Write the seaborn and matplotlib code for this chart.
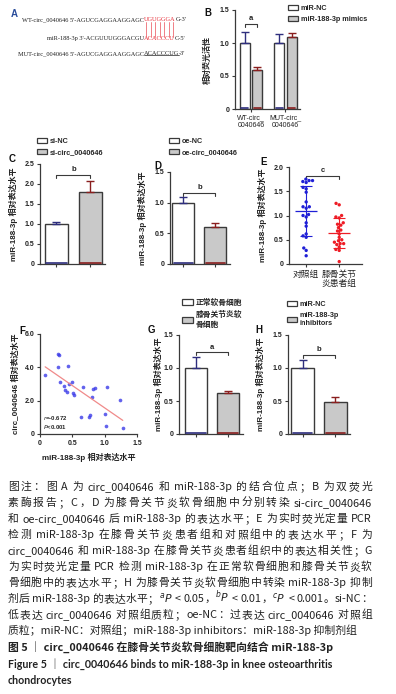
import re
import numpy as np
import pandas as pd
import seaborn as sns
import matplotlib
matplotlib.use("Agg")
import matplotlib.pyplot as plt
from matplotlib.patches import Patch
from matplotlib.lines import Line2D
from matplotlib.transforms import IdentityTransform

sns.set_theme(style="ticks")
plt.rcParams["font.family"] = ["Liberation Sans", "Noto Sans CJK SC", "DejaVu Sans"]
plt.rcParams["axes.unicode_minus"] = False

W, H = 396, 694
DARK = "#3a3a3a"
WHITE = "#ffffff"
GREY = "#c9c9c9"
NAVY = "#2e2e7e"
MAROON = "#8a1f1f"
BLUE = "#1f1fd6"
RED = "#ee1c25"
SEQ_RED = "#e8303a"

# ---- data ----
b_groups = ["WT-circ_\n0040646", "MUT-circ_\n0040646"]
b_conds = ["miR-NC", "miR-188-3p mimics"]
b_nc = [1.0, 1.0]
b_nc_err = [0.16, 0.14]
b_mimics = [0.59, 1.09]
b_mimics_err = [0.05, 0.06]

c_groups = ["si-NC", "si-circ_0040646"]
c_vals = [1.0, 1.8]
c_err = [0.06, 0.27]

d_groups = ["oe-NC", "oe-circ_0040646"]
d_vals = [1.0, 0.6]
d_err = [0.09, 0.07]

e_cats = ["对照组", "膝骨关节\n炎患者组"]
e_ctrl = [1.75, 1.72, 1.70, 1.72, 1.68, 1.58, 1.55, 1.48, 1.28, 1.18, 1.18, 1.15,
          1.02, 1.00, 0.97, 0.85, 0.78, 0.62, 0.58, 0.55, 0.33, 0.28, 0.17]
e_koa = [1.25, 1.22, 1.00, 0.97, 0.95, 0.85, 0.82, 0.80, 0.75, 0.70, 0.68, 0.62,
         0.55, 0.50, 0.48, 0.45, 0.42, 0.42, 0.40, 0.35, 0.30, 0.28, 0.05]

f_mir = [0.08, 0.28, 0.28, 0.30, 0.44, 0.31, 0.37, 0.39, 0.42, 0.45, 0.49, 0.51,
         0.52, 0.66, 0.63, 0.76, 0.78, 0.81, 0.82, 0.85, 1.04, 1.01, 1.02, 1.24, 1.28]
f_circ = [3.56, 4.02, 4.82, 4.74, 4.06, 3.14, 2.90, 2.62, 2.54, 2.98, 3.14, 2.46,
          2.34, 2.82, 1.02, 1.02, 1.16, 2.20, 2.70, 2.76, 2.82, 1.22, 0.50, 2.06, 0.38]

g_groups = ["正常软骨细胞", "膝骨关节炎软\n骨细胞"]
g_vals = [1.0, 0.62]
g_err = [0.16, 0.03]

h_groups = ["miR-NC", "miR-188-3p\ninhibitors"]
h_vals = [1.0, 0.49]
h_err = [0.12, 0.07]

YLAB = "miR-188-3p 相对表达水平"

caption = [
    "图注：图 A 为 circ_0040646 和 miR-188-3p 的结合位点；B 为双荧光",
    "素酶报告；C，D 为膝骨关节炎软骨细胞中分别转染 si-circ_0040646",
    "和 oe-circ_0040646 后 miR-188-3p 的表达水平；E 为实时荧光定量 PCR",
    "检测 miR-188-3p 在膝骨关节炎患者组和对照组中的表达水平；F 为",
    "circ_0040646 和 miR-188-3p 在膝骨关节炎患者组织中的表达相关性；G",
    "为实时荧光定量 PCR 检测 miR-188-3p 在正常软骨细胞和膝骨关节炎软",
    "骨细胞中的表达水平；H 为膝骨关节炎软骨细胞中转染 miR-188-3p 抑制",
    "剂后 miR-188-3p 的表达水平；$^{a}P$ < 0.05，$^{b}P$ < 0.01，$^{c}P$ < 0.001。si-NC：",
    "低表达 circ_0040646 对照组质粒；oe-NC：过表达 circ_0040646 对照组",
    "质粒；miR-NC：对照组；miR-188-3p inhibitors：miR-188-3p 抑制剂组",
]

fig = plt.figure(figsize=(W / 100, H / 100), dpi=100)


def add_ax(box):
    l, t, r, b = box
    return fig.add_axes([l / W, 1 - b / H, (r - l) / W, (b - t) / H])


def finish(ax, ylim, yticks, ylabels, xlim, ylabel, label_x):
    ax.set_ylim(*ylim)
    ax.set_xlim(*xlim)
    ax.set_yticks(yticks)
    ax.set_yticklabels(ylabels, fontsize=5, fontweight="bold", color="#222222")
    for side in ["top", "right"]:
        ax.spines[side].set_visible(False)
    for side in ["left", "bottom"]:
        ax.spines[side].set_linewidth(0.9)
        ax.spines[side].set_color(DARK)
    ax.tick_params(length=2.5, width=0.8, color=DARK, pad=1.5)
    ax.set_xlabel("")
    ax.set_ylabel(ylabel, fontsize=5.8, fontweight="bold", color="#222222")
    ax.yaxis.set_label_coords(label_x, 0.5)


def bracket(ax, x1, x2, y, h, label):
    ax.plot([x1, x1, x2, x2], [y - h, y, y, y - h], color=DARK, lw=0.8)
    ax.text((x1 + x2) / 2, y + h * 0.5, label, ha="center", va="bottom",
            fontsize=5.5, fontweight="bold", color="#222222")


def bars(ax, centers_out, errs, colors, ytop):
    for p, e, c in zip(ax.patches, errs, colors):
        xc = p.get_x() + p.get_width() / 2
        centers_out.append(xc)
        ax.errorbar(xc, p.get_height(), yerr=[[0], [e]], fmt="none", ecolor=c,
                    elinewidth=1.0, capsize=2.6, capthick=1.0, zorder=1)
        ax.plot([p.get_x() + 0.04, p.get_x() + p.get_width() - 0.04],
                [ytop * 0.012] * 2, color=c, lw=1.2, zorder=3)


def two_bar(box, groups, vals, errs, xlim, width, ytop, yticks, ylabels, label_x, sig):
    ax = add_ax(box)
    df = pd.DataFrame({"group": groups, "value": vals})
    sns.barplot(data=df, x="group", y="value", hue="group", palette=[WHITE, GREY],
                width=width, edgecolor=DARK, linewidth=1.0, errorbar=None,
                legend=False, ax=ax)
    centers = []
    bars(ax, centers, errs, [NAVY, MAROON], ytop)
    ax.set_xticks(centers)
    ax.set_xticklabels(["", ""])
    finish(ax, (0, ytop), yticks, ylabels, xlim, YLAB, label_x)
    bracket(ax, centers[0], centers[1], sig[0], sig[1], sig[2])
    return ax


def legend_at(labels, x, y, fs=5.2, spacing=1.2):
    handles = [Patch(facecolor=WHITE, edgecolor=DARK, linewidth=0.9),
               Patch(facecolor=GREY, edgecolor=DARK, linewidth=0.9)]
    leg = fig.legend(handles, labels, loc="upper left", bbox_to_anchor=(x / W, 1 - y / H),
                     frameon=False, prop={"size": fs, "weight": "bold"}, handlelength=1.4,
                     handleheight=0.75, handletextpad=0.35, labelspacing=0.5,
                     borderpad=0, borderaxespad=0)
    for t in leg.get_texts():
        t.set_linespacing(spacing)
    return leg


def letter(s, x, y, color="#111111"):
    fig.text(x / W, 1 - y / H, s, fontsize=7, fontweight="bold", ha="center",
             va="center", color=color)


# ---- A: binding sites ----
axT = fig.add_axes([0, 0, 1, 1])
axT.set_axis_off()
seq_kw = dict(fontsize=4.6, family="Liberation Serif", color="#222222")
SEQ_X = 144


def seq_line(y, prefix, mid, suffix, mid_color):
    axT.annotate(prefix, xy=(SEQ_X, H - y), xycoords="figure pixels", ha="right",
                 va="baseline", **seq_kw)
    m = axT.annotate(mid, xy=(SEQ_X, H - y), xycoords="figure pixels", ha="left",
                     va="baseline", **{**seq_kw, "color": mid_color})
    axT.annotate(suffix, xy=(1, 0), xycoords=m, ha="left", va="bottom", **seq_kw)
    return m


m1 = seq_line(21, "WT-circ_0040646 5'-AGUCGAGGAAGGAGC", "UGUGGGA", "G-3'", SEQ_RED)
m2 = seq_line(40, "miR-188-3p 3'-ACGUUUGGGACGU", "ACACCCU", "C-5'", SEQ_RED)
m3 = seq_line(55, "MUT-circ_0040646 5'-AGUCGAGGAAGGAGC", "ACACCCUG", "-3'", "#222222")
letter("A", 14, 14, color="#2a4d9b")

# ---- B: dual luciferase ----
axB = add_ax((235, 10, 300, 109))
dfb = pd.DataFrame({"group": b_groups * 2,
                    "cond": [b_conds[0]] * 2 + [b_conds[1]] * 2,
                    "value": b_nc + b_mimics})
sns.barplot(data=dfb, x="group", y="value", hue="cond", palette=[WHITE, GREY],
            width=0.72, gap=0.2, edgecolor=DARK, linewidth=1.0, errorbar=None,
            legend=False, ax=axB)
b_centers = []
bars(axB, b_centers, b_nc_err + b_mimics_err, [NAVY, NAVY, MAROON, MAROON], 1.5)
finish(axB, (0, 1.5), [0, 0.5, 1.0, 1.5], ["0", "0.5", "1.0", "1.5"], (-0.46, 1.42),
       "相对荧光活性", -0.36)
axB.set_xticks([0, 1])
axB.set_xticklabels(b_groups, fontsize=5, color="#222222", linespacing=1.0)
bracket(axB, b_centers[0], b_centers[2], 1.29, 0.05, "a")
legend_at(b_conds, 288, 5)
letter("B", 208, 13)

# ---- C ----
two_bar((40, 164, 105, 264), c_groups, c_vals, c_err, (-0.485, 1.43), 0.68, 2.5,
        [0, 0.5, 1.0, 1.5, 2.0, 2.5], ["0", "0.5", "1.0", "1.5", "2.0", "2.5"], -0.34,
        (2.23, 0.08, "b"))
legend_at(c_groups, 37, 138)
letter("C", 12, 159)

# ---- D ----
two_bar((170, 172, 230, 264), d_groups, d_vals, d_err, (-0.42, 1.455), 0.69, 1.5,
        [0, 0.5, 1.0, 1.5], ["0", "0.5", "1.0", "1.5"], -0.38, (1.16, 0.05, "b"))
legend_at(d_groups, 169, 138)
letter("D", 158, 166)

# ---- E: patients vs control ----
axE = add_ax((289, 167, 362, 264))
dfe = pd.DataFrame({"group": [e_cats[0]] * len(e_ctrl) + [e_cats[1]] * len(e_koa),
                    "value": e_ctrl + e_koa})
sns.swarmplot(data=dfe, x="group", y="value", hue="group", palette=[BLUE, RED],
              size=2.4, legend=False, ax=axE)
stats = dfe.groupby("group", sort=False)["value"].agg(["mean", "std"])
for i, (cat, col) in enumerate(zip(e_cats, [BLUE, RED])):
    mu, sd = stats.loc[cat, "mean"], stats.loc[cat, "std"]
    axE.hlines(mu, i - 0.34, i + 0.34, color=col, lw=0.9, zorder=4)
    axE.errorbar(i, mu, yerr=sd, fmt="none", ecolor=col, elinewidth=0.8,
                 capsize=4.2, capthick=0.8, zorder=4)
finish(axE, (0, 2.0), [0, 0.5, 1.0, 1.5, 2.0], ["0", "0.5", "1.0", "1.5", "2.0"],
       (-0.52, 1.69), YLAB, -0.3)
axE.set_xticks([0, 1])
axE.set_xticklabels(e_cats, fontsize=6.3, color="#222222", linespacing=1.0)
bracket(axE, 0, 1, 1.82, 0.07, "c")
letter("E", 264, 162)

# ---- F: correlation ----
axF = add_ax((40, 334, 137, 434))
sns.regplot(x=f_mir, y=f_circ, ci=None, ax=axF,
            scatter_kws=dict(s=7, color="#3b3be8", linewidths=0),
            line_kws=dict(color="#f08a8a", lw=0.9))
finish(axF, (0, 6), [0, 2, 4, 6], ["0", "2.0", "4.0", "6.0"], (0, 1.5),
       "circ_0040646 相对表达水平", -0.21)
axF.set_xticks([0, 0.5, 1.0, 1.5])
axF.set_xticklabels(["0", "0.5", "1.0", "1.5"], fontsize=5, fontweight="bold",
                    color="#222222")
axF.set_xlabel(YLAB, fontsize=5.8, fontweight="bold", color="#222222")
axF.xaxis.set_label_coords(0.5, -0.19)
axF.text(0.03, 0.16, r"$\it{r}$=-0.672", transform=axF.transAxes, fontsize=4.3,
         fontweight="bold", va="center")
axF.text(0.03, 0.07, r"$\it{P}$<0.001", transform=axF.transAxes, fontsize=4.3,
         fontweight="bold", va="center")
letter("F", 22, 331)

# ---- G ----
axG = two_bar((179, 335, 243, 434), g_groups, g_vals, g_err, (-0.53, 1.47), 0.69, 1.5,
              [0, 0.5, 1.0, 1.5], ["0", "0.5", "1.0", "1.5"], -0.25, (1.24, 0.05, "a"))
legend_at(g_groups, 182, 299, fs=5.6, spacing=1.5)
letter("G", 151, 330)

# ---- H ----
two_bar((288, 335, 350, 434), h_groups, h_vals, h_err, (-0.44, 1.44), 0.68, 1.5,
        [0, 0.5, 1.0, 1.5], ["0", "0.5", "1.0", "1.5"], -0.37, (1.2, 0.05, "b"))
legend_at(h_groups, 287, 301)
letter("H", 259, 330)

# ---- caption (justified) ----
CJK = "\u3000-\u303f\u4e00-\u9fff\uff00-\uffef"
tok_re = re.compile(f"[{CJK}]|[^\\s{CJK}]+")
cap_kw = dict(fontsize=7.8, family=["Noto Sans CJK SC", "DejaVu Sans"], color="#222222",
              va="baseline")
renderer = fig.canvas.get_renderer()
space_w = 0.25 * 7.8 * 100 / 72
for i, line in enumerate(caption):
    yb = 1 - (486 + 16 * i + 4) / H
    if i == len(caption) - 1:
        fig.text(8 / W, yb, line, **cap_kw)
        continue
    toks = list(tok_re.finditer(line))
    objs = [fig.text(0, yb, t.group(), **cap_kw) for t in toks]
    widths = [o.get_window_extent(renderer).width for o in objs]
    base = [space_w if (t.start() > 0 and line[t.start() - 1] == " ") else 0 for t in toks[1:]]
    extra = (372 - 8 - sum(widths) - sum(base)) / max(len(toks) - 1, 1)
    x = 8
    for k, (o, w) in enumerate(zip(objs, widths)):
        o.set_x(x / W)
        if k < len(base):
            x += w + base[k] + extra

fig.text(8 / W, 1 - 652 / H, "图 5 ｜ circ_0040646 在膝骨关节炎软骨细胞靶向结合 miR-188-3p",
         fontsize=7.8, fontweight="bold", family=["Noto Sans CJK SC", "DejaVu Sans"],
         color="#222222", va="baseline")
fig.text(8 / W, 1 - 668 / H, "Figure 5 ｜ circ_0040646 binds to miR-188-3p in knee osteoarthritis",
         fontsize=7.7, fontweight="bold", family=["Lato", "Noto Sans CJK SC"],
         color="#222222", va="baseline")
fig.text(8 / W, 1 - 684 / H, "chondrocytes", fontsize=7.7, fontweight="bold",
         family=["Lato", "Noto Sans CJK SC"], color="#222222", va="baseline")

# ---- A: connector lines and underline ----
fig.canvas.draw()
bb1 = m1.get_window_extent(renderer)
bb2 = m2.get_window_extent(renderer)
bb3 = m3.get_window_extent(renderer)
step = bb1.width / 7
for i in range(7):
    xc = bb1.x0 + (i + 0.5) * step
    fig.add_artist(Line2D([xc, xc], [bb2.y1 - 0.5, bb1.y0 + 0.5], transform=IdentityTransform(),
                          color="#ee6a72", lw=0.6))
fig.add_artist(Line2D([bb3.x0, bb3.x1], [bb3.y0 + 1.0, bb3.y0 + 1.0],
                      transform=IdentityTransform(), color="#222222", lw=0.5))

fig.savefig("out.png", dpi=100)
